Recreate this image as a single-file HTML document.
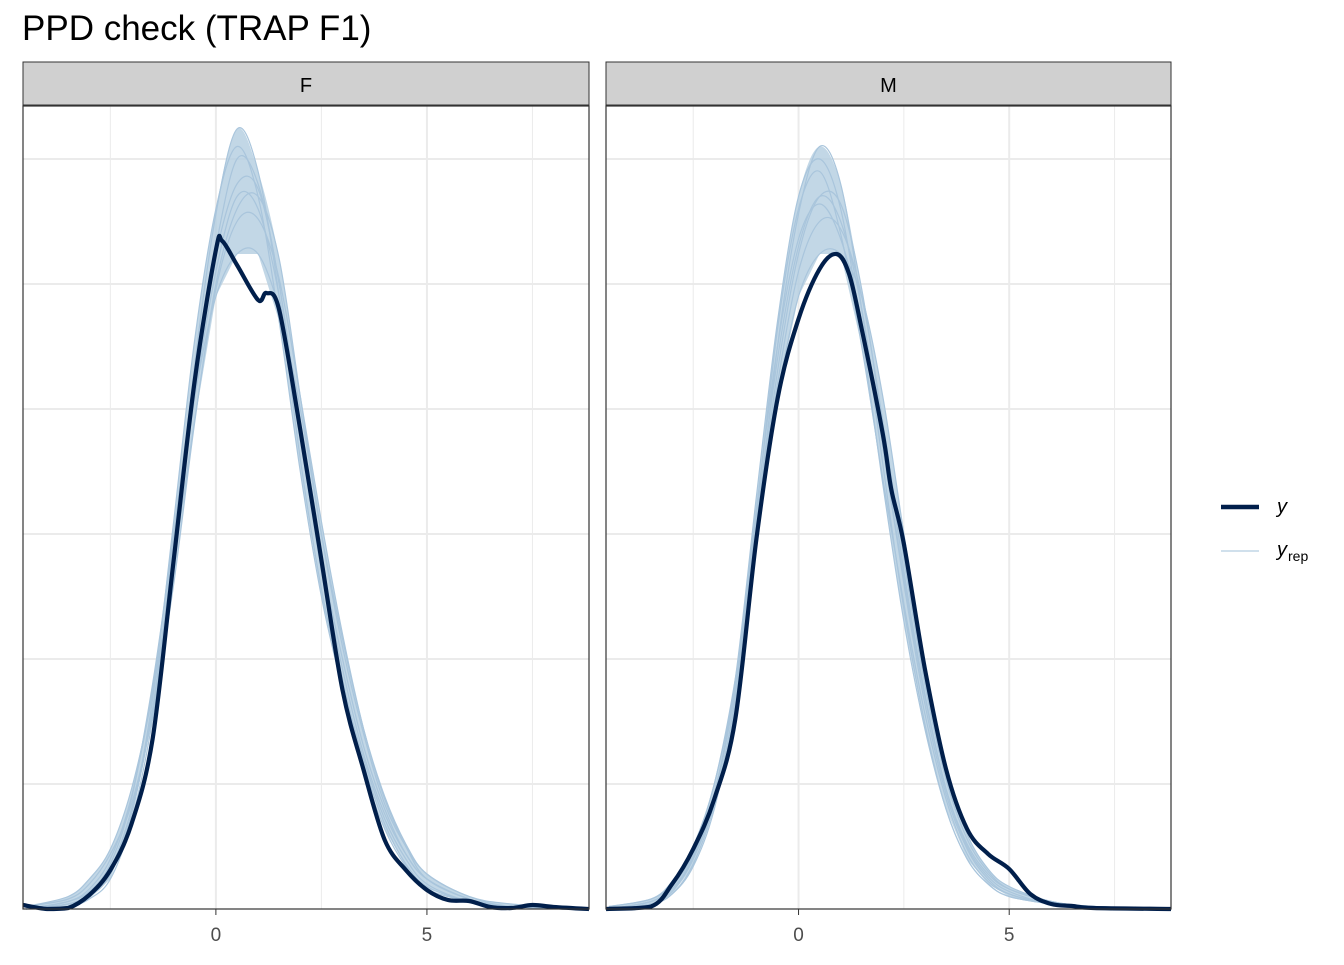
<!DOCTYPE html>
<html><head><meta charset="utf-8"><style>
body{margin:0;background:#fff;font-family:"Liberation Sans",Arial,sans-serif}
</style></head><body>
<svg id="chart" width="1344" height="960" xmlns="http://www.w3.org/2000/svg" font-family="Liberation Sans, Arial, sans-serif">
<rect width="1344" height="960" fill="#fff"/>
<text x="22" y="40" font-size="35" fill="#000">PPD check (TRAP F1)</text>
<g id="panels"></g>
<g>
<line x1="1221" y1="507" x2="1259" y2="507" stroke="#011f4b" stroke-width="4.5"/>
<text x="1277" y="513" font-size="20" font-style="italic">y</text>
<line x1="1221" y1="551" x2="1259" y2="551" stroke="#b3cde0" stroke-width="1.2"/>
<text x="1277" y="556" font-size="20"><tspan font-style="italic">y</tspan><tspan font-size="14" dy="5" dx="1">rep</tspan></text>
</g>
</svg>
<script>
const panelNames=["F","M"];
const xTicks=[0,5];
const xMinor=[-2.5,2.5,7.5];
const yGrid=[50,100,150,200,250,300];
const obsXF=[-4.57,-4,-3.5,-3,-2.5,-2,-1.5,-1,-0.5,0,0.15,0.5,1,1.2,1.5,2,2.5,3,3.5,4,4.5,5,5.5,6,6.5,7,7.5,8,8.84];
const obsF=[1.6,0,0.4,5.6,15.6,34,68,139.6,211.6,263.6,267.2,257.6,243.6,246.4,239.6,191.6,139.6,87.6,55.6,27.6,15.6,7.6,3.6,3.2,0.8,0.4,1.6,0.8,0];
const obsXM=[-4.57,-3.5,-3,-2.5,-2,-1.5,-1,-0.5,0,0.5,0.9,1.2,1.5,2,2.2,2.5,3,3.5,4,4.5,5,5.5,6,6.5,7,8.84];
const obsM=[0,1,10,24,44,76,148,204,236,256,262,254,232,190,168,146,96,56,32,22,16,6,2,1.2,0.4,0];
const repX=[-4.5,-3.5,-3,-2.5,-2,-1.5,-1,-0.5,0,0.5,1,1.5,2,2.5,3,3.5,4,4.5,5,6,7,8.8];
const repsF=[
[0,2,6,16,40,80,140,205,255,285,280,245,190,140,100,65,40,22,12,4,1,0],
[0,3,8,20,45,88,150,215,265,300,290,250,190,135,92,58,34,18,9,3,1,0],
[1,4,10,22,42,78,130,195,250,280,285,260,205,150,105,70,42,25,14,5,2,0],
[0,2,5,14,38,84,155,228,280,305,285,235,175,125,88,56,32,17,8,3,1,0],
[0,3,7,18,44,90,148,205,245,262,262,240,200,150,108,72,45,26,14,5,1,0],
[0,1,4,12,35,76,140,218,278,312,295,245,180,128,90,60,36,20,10,3,1,0],
[1,5,12,24,48,86,138,196,248,275,276,252,205,155,110,72,44,25,12,4,1,0],
[0,2,6,15,38,80,146,214,262,290,288,250,192,138,96,62,38,22,12,4,1,0]];
const repsM=[
[0,3,9,22,46,88,155,220,265,285,275,240,185,130,82,46,24,12,6,2,1,0],
[0,2,7,20,44,92,165,235,285,300,280,230,170,115,72,40,20,10,5,2,0,0],
[1,4,10,24,50,90,150,210,255,275,272,245,195,140,90,52,28,15,8,3,1,0],
[0,2,6,18,42,85,158,232,280,295,270,225,172,122,78,44,22,11,6,2,0,0],
[0,3,8,21,46,90,160,225,268,282,268,235,185,132,85,48,26,14,8,3,1,0],
[1,4,11,25,50,92,150,205,245,262,262,245,205,150,98,56,30,16,9,3,1,0],
[0,2,6,17,40,82,150,225,278,305,290,240,178,120,74,40,20,10,5,2,0,0],
[0,3,8,20,45,88,152,215,262,285,282,248,192,135,86,48,25,13,7,2,1,0]];
const NS="http://www.w3.org/2000/svg";
const panels=[{l:23,r:589,obsX:obsXF,obs:obsF,reps:repsF},{l:606,r:1171,obsX:obsXM,obs:obsM,reps:repsM}];
const yTop=106,yBot=909,xMin=-4.57,xMax=8.84,yMax=321.2;
function mk(t,a,p){const e=document.createElementNS(NS,t);for(const k in a)e.setAttribute(k,a[k]);p.appendChild(e);return e;}
function path(pts){let d="M"+pts[0][0]+","+pts[0][1];for(let i=0;i<pts.length-1;i++){const p0=pts[Math.max(0,i-1)],p1=pts[i],p2=pts[i+1],p3=pts[Math.min(pts.length-1,i+2)];
const c1=[p1[0]+(p2[0]-p0[0])/6,p1[1]+(p2[1]-p0[1])/6],c2=[p2[0]-(p3[0]-p1[0])/6,p2[1]-(p3[1]-p1[1])/6];
d+=` C${c1[0].toFixed(1)},${Math.min(yBot,c1[1]).toFixed(1)} ${c2[0].toFixed(1)},${Math.min(yBot,c2[1]).toFixed(1)} ${p2[0].toFixed(1)},${p2[1].toFixed(1)}`;}return d;}
const root=document.getElementById("panels");
panels.forEach((P,pi)=>{
 const sx=v=>P.l+(v-xMin)/(xMax-xMin)*(P.r-P.l);
 const sy=v=>yBot-v/yMax*(yBot-yTop);
 const g=mk("g",{},root);
 
 
 const strip=mk("rect",{x:P.l,y:62,width:P.r-P.l,height:43,fill:"#d0d0d0",stroke:"#333","stroke-width":1},g);
 
 
 const st=mk("text",{x:(P.l+P.r)/2,y:92,"font-size":20,"text-anchor":"middle"},g);st.textContent=panelNames[pi];
 
 
 yGrid.forEach(v=>{const l=mk("line",{x1:P.l,x2:P.r,y1:sy(v),y2:sy(v),stroke:"#ebebeb","stroke-width":2},g);
  
  });
 xMinor.forEach(v=>{const l=mk("line",{x1:sx(v),x2:sx(v),y1:yTop,y2:yBot,stroke:"#ebebeb","stroke-width":1},g);
  
  });
 xTicks.forEach(v=>{const l=mk("line",{x1:sx(v),x2:sx(v),y1:yTop,y2:yBot,stroke:"#ebebeb","stroke-width":2},g);
  
  
  const t=mk("line",{x1:sx(v),x2:sx(v),y1:yBot,y2:yBot+6,stroke:"#333","stroke-width":1},g);
  
  
  const tx=mk("text",{x:sx(v),y:941,"font-size":19,"text-anchor":"middle",fill:"#4d4d4d"},g);tx.textContent=v;
  
  });
 const lo=repX.map((x,i)=>[sx(x),sy(Math.min(...P.reps.map(r=>r[i])))]);
 const hi=repX.map((x,i)=>[sx(x),sy(Math.max(...P.reps.map(r=>r[i])))]);
 const band=mk("path",{d:path(hi)+" L"+lo.slice().reverse().map(p=>p[0]+","+p[1]).join(" L")+"Z",fill:"#b3cde0","fill-opacity":0.8},g);
 
 
 P.reps.forEach(r=>{const p=mk("path",{d:path(repX.map((x,i)=>[sx(x),sy(r[i])])),fill:"none",stroke:"#a9c5dc","stroke-width":1.2},g);
  
  });
 const o=mk("path",{d:path(P.obsX.map((x,i)=>[sx(x),sy(P.obs[i])])),fill:"none",stroke:"#011f4b","stroke-width":4.2,"stroke-linejoin":"round"},g);
 
 
 const fr=mk("rect",{x:P.l,y:yTop,width:P.r-P.l,height:yBot-yTop,fill:"none",stroke:"#333","stroke-width":1.2},g);
 
 
});
</script>
</body></html>
